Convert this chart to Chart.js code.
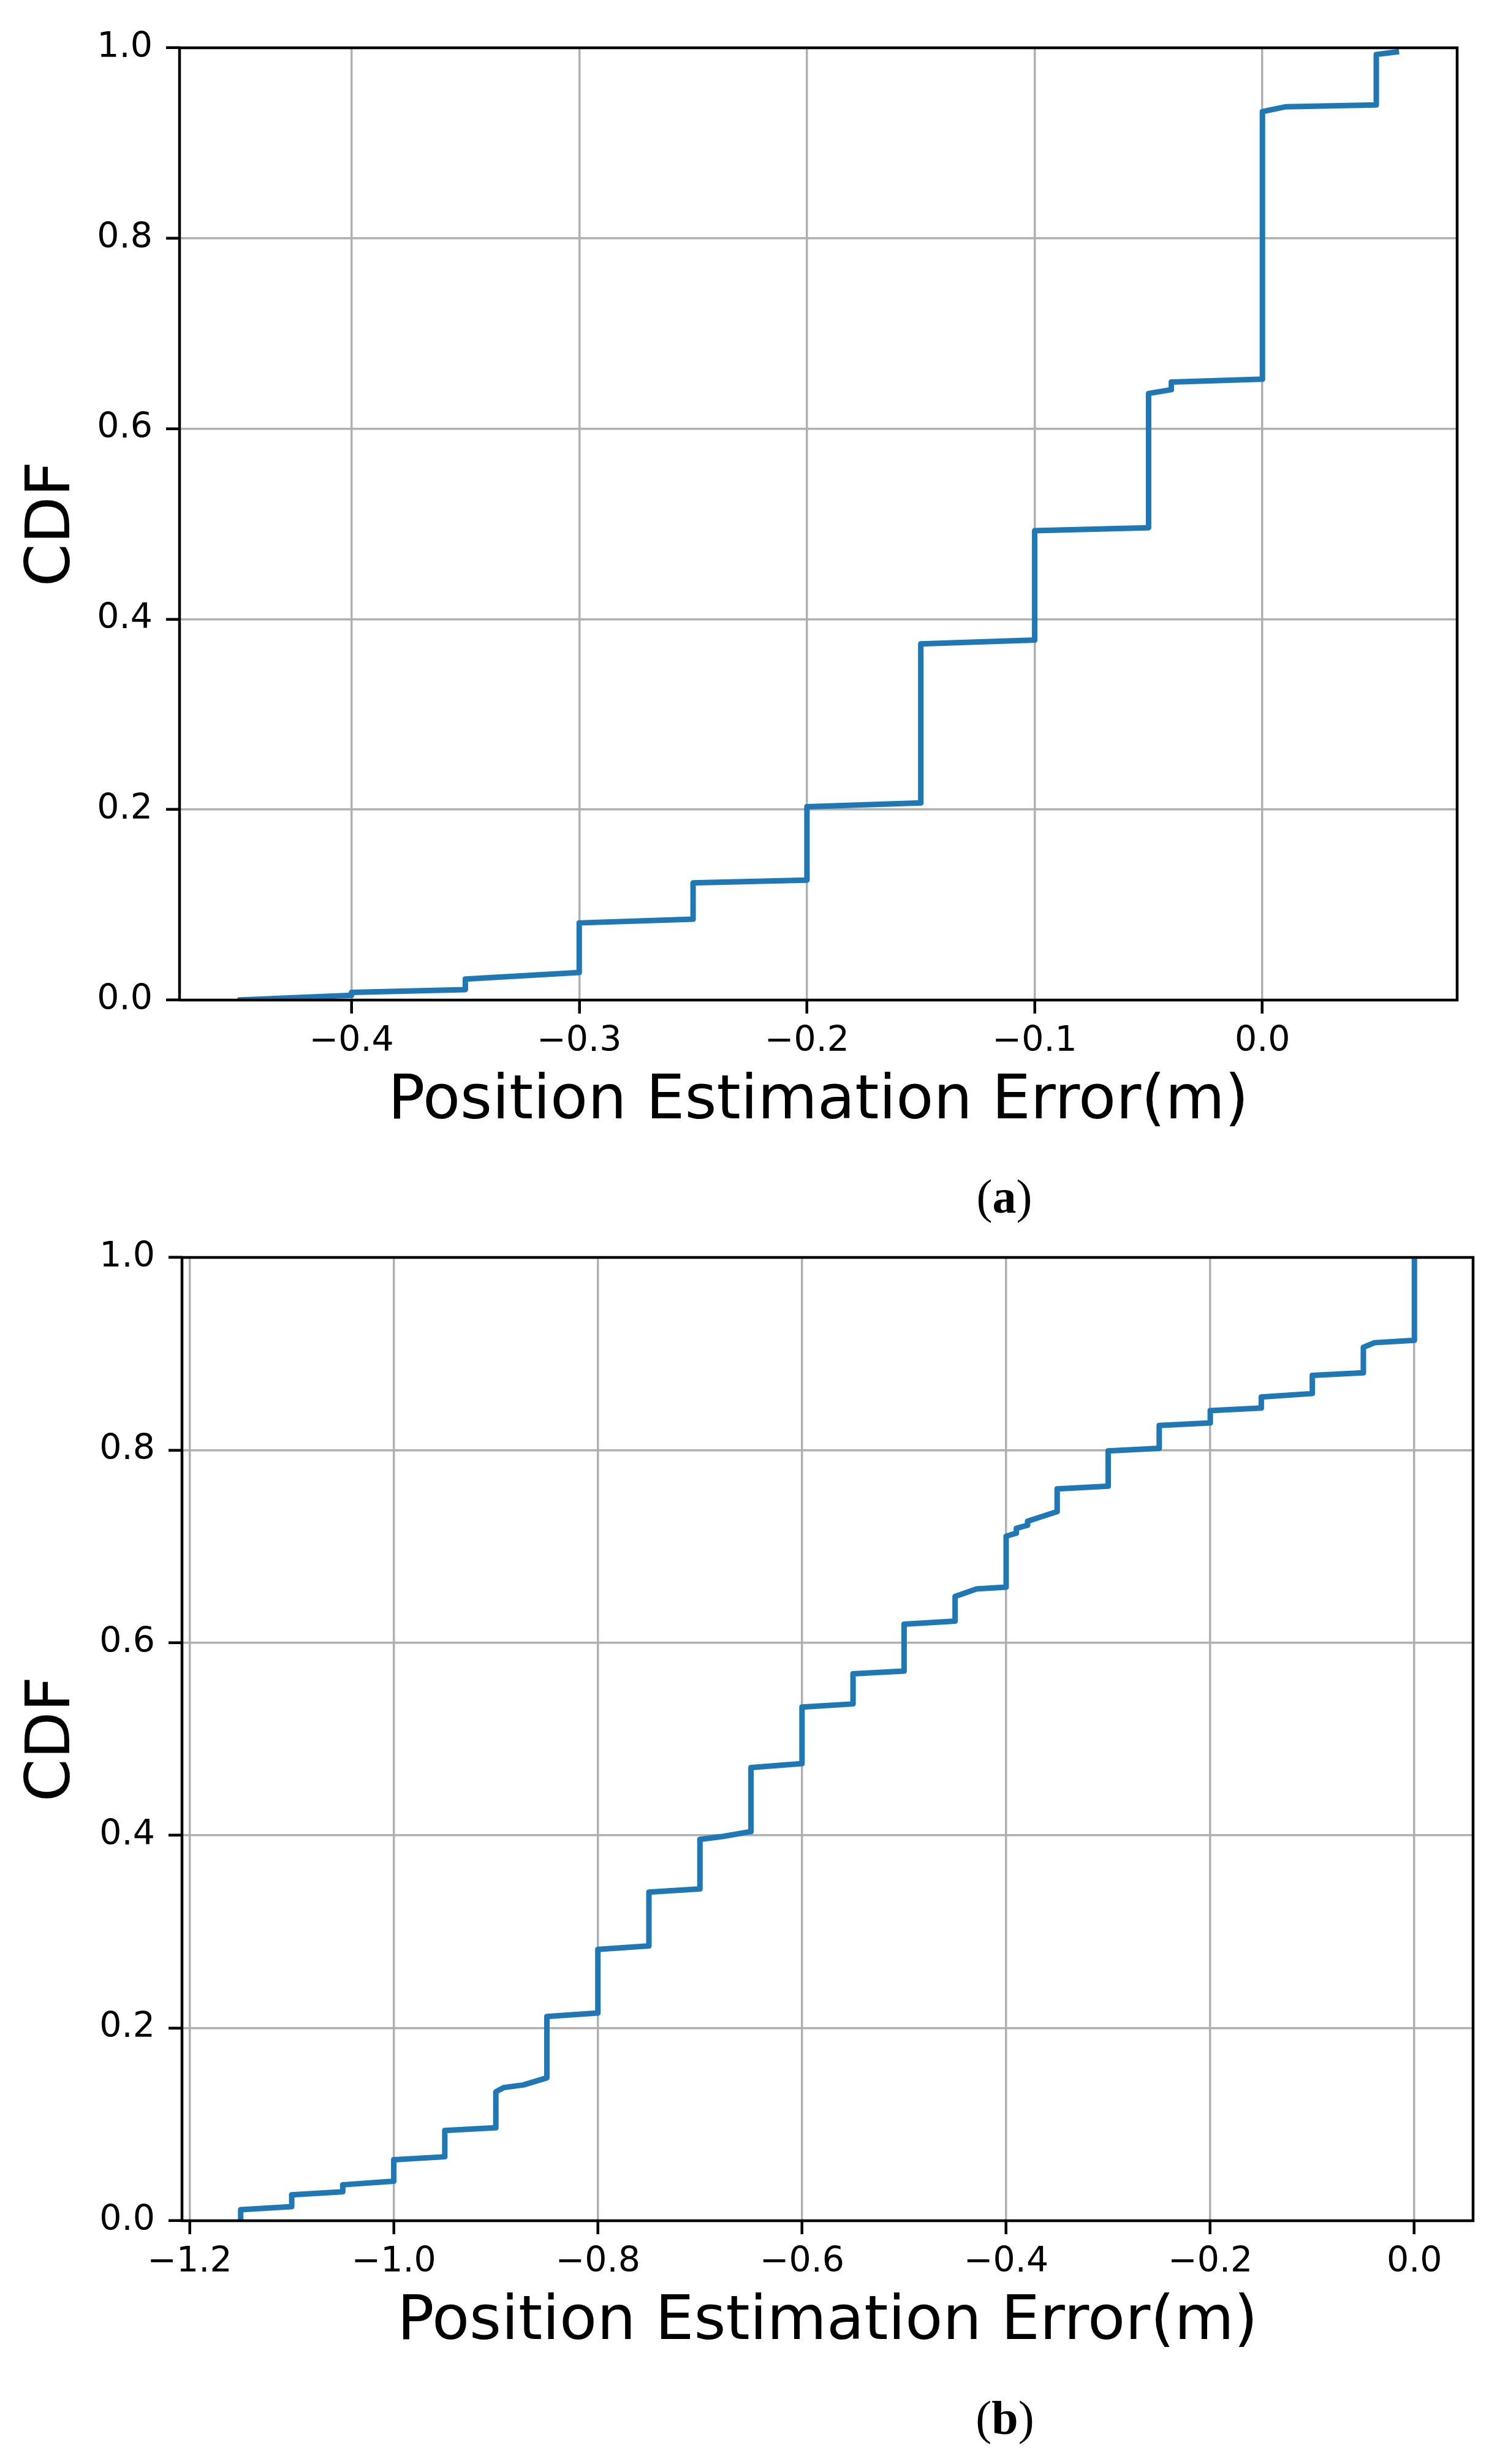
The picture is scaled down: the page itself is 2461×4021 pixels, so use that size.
<!DOCTYPE html>
<html>
<head>
<meta charset="utf-8">
<script src="https://cdn.jsdelivr.net/npm/chart.js@4.4.0/dist/chart.umd.min.js"></script>
<style>
  html, body { margin: 0; padding: 0; background: #fff; overflow: hidden; }
  body { width: 2461px; height: 4021px; position: relative; }
  canvas { position: absolute; left: 0; }
  .cap { position: absolute; font-family: 'Liberation Serif', serif; font-size: 78px; line-height: 78px;
         color: #000; transform: translate(-50%, -50%); white-space: nowrap; }
</style>
</head>
<body>
<canvas id="chartA" width="2461" height="1900" style="top:0px;width:2461px;height:1900px"></canvas>
<div class="cap" style="left:1639px;top:1953px">(<b>a</b>)</div>
<canvas id="chartB" width="2461" height="1918" style="top:1974px;width:2461px;height:1918px"></canvas>
<div class="cap" style="left:1640px;top:3946px">(<b>b</b>)</div>
<script>
const errA = [-0.45, -0.40, -0.40, -0.35, -0.35, -0.30, -0.30, -0.25, -0.25, -0.20, -0.20,
  -0.15, -0.15, -0.10, -0.10, -0.05, -0.05, -0.04, -0.04, 0.00, 0.00, 0.01, 0.05, 0.05, 0.06];
const cdfA = [0.000, 0.005, 0.008, 0.011, 0.022, 0.029, 0.081, 0.085, 0.123, 0.126, 0.203,
  0.207, 0.374, 0.378, 0.493, 0.496, 0.637, 0.641, 0.649, 0.652, 0.933, 0.938, 0.940, 0.993, 0.996];

// panel (b)
const errB = [-1.15, -1.15, -1.10, -1.10, -1.05, -1.05, -1.00, -1.00, -0.95, -0.95, -0.90, -0.90,
  -0.892, -0.873, -0.85, -0.85, -0.80, -0.80, -0.75, -0.75, -0.70, -0.70, -0.677, -0.65, -0.65,
  -0.60, -0.60, -0.55, -0.55, -0.50, -0.50, -0.45, -0.45, -0.429, -0.40, -0.40, -0.39, -0.39,
  -0.379, -0.379, -0.35, -0.35, -0.30, -0.30, -0.25, -0.25, -0.20, -0.20, -0.15, -0.15, -0.10,
  -0.10, -0.05, -0.05, -0.039, 0.00, 0.00];
const cdfB = [0.000, 0.0114, 0.0146, 0.0269, 0.030, 0.0373, 0.041, 0.0633, 0.0664, 0.0937, 0.0965, 0.1338,
  0.1383, 0.141, 0.1483, 0.212, 0.2157, 0.2816, 0.2853, 0.3412, 0.3444, 0.3958, 0.399, 0.404, 0.4704,
  0.4745, 0.5333, 0.5365, 0.5678, 0.5706, 0.6193, 0.6225, 0.6481, 0.6558, 0.6578, 0.7106, 0.7138, 0.7187,
  0.722, 0.7261, 0.7362, 0.7597, 0.7626, 0.7991, 0.8019, 0.8255, 0.8283, 0.8409, 0.8437, 0.8551, 0.8587,
  0.8775, 0.8802, 0.9067, 0.9115, 0.914, 1.000];

const xTicksA = [-0.4, -0.3, -0.2, -0.1, 0.0];
const xTicksB = [-1.2, -1.0, -0.8, -0.6, -0.4, -0.2, 0.0];
const yTicks = [0.0, 0.2, 0.4, 0.6, 0.8, 1.0];
const xRangeA = [-0.4755, 0.0855];
const xRangeB = [-1.2075, 0.0575];

const xTitle = 'Position Estimation Error(m)';
const yTitle = 'CDF';

Chart.defaults.font.family = "'DejaVu Sans', sans-serif";
Chart.defaults.color = '#000';

const fmtX = v => (v < 0 ? '\u2212' : '') + Math.abs(v).toFixed(1);

// matplotlib style box round the plot area, drawn above the line
const frame = {
  id: 'frame',
  afterDatasetsDraw(chart) {
    const { ctx, chartArea: a } = chart;
    ctx.save();
    ctx.strokeStyle = '#000';
    ctx.lineWidth = 4.5;
    ctx.strokeRect(a.left, a.top, a.right - a.left, a.bottom - a.top);
    ctx.restore();
  }
};

function makeCdf(canvasId, xs, ys, xTicks, xRange, { plotLeft, padRight }) {
  const pts = xs.map((x, i) => ({ x, y: ys[i] }));
  const tickFont = { size: 57, lineHeight: 1 };
  const grid = { color: '#b0b0b0', lineWidth: 3.5, tickColor: '#000', tickWidth: 4.5, tickLength: 22 };
  return new Chart(document.getElementById(canvasId), {
    type: 'line',
    data: { datasets: [{ data: pts, borderColor: '#1f77b4', borderWidth: 9,
      pointRadius: 0, tension: 0, borderJoinStyle: 'round', fill: false }] },
    options: {
      responsive: false, animation: false, devicePixelRatio: 1,
      layout: { padding: { top: 78, right: padRight, left: 0, bottom: 0 } },
      plugins: { legend: { display: false }, tooltip: { enabled: false } },
      scales: {
        x: {
          type: 'linear', position: 'bottom', min: xRange[0], max: xRange[1],
          afterBuildTicks: s => { s.ticks = xTicks.map(v => ({ value: v })); },
          afterFit: s => { s.height = 268; },
          ticks: { font: tickFont, padding: 18, maxRotation: 0, autoSkip: false, callback: v => fmtX(v) },
          grid, border: { display: false },
          title: { display: true, text: xTitle, font: { size: 100, lineHeight: 1 }, padding: { top: 0, bottom: 51 } }
        },
        y: {
          type: 'linear', position: 'left', min: 0, max: 1,
          afterBuildTicks: s => { s.ticks = yTicks.map(v => ({ value: v })); },
          afterFit: s => { s.width = plotLeft; },
          ticks: { font: tickFont, padding: 22, autoSkip: false, callback: v => Number(v).toFixed(1) },
          grid, border: { display: false },
          title: { display: true, text: yTitle, font: { size: 100, lineHeight: 1 }, padding: { top: 37, bottom: 0 } }
        }
      }
    },
    plugins: [frame]
  });
}

makeCdf('chartA', errA, cdfA, xTicksA, xRangeA, { plotLeft: 293, padRight: 83 });
makeCdf('chartB', errB, cdfB, xTicksB, xRangeB, { plotLeft: 297, padRight: 57 });
</script>
</body>
</html>
